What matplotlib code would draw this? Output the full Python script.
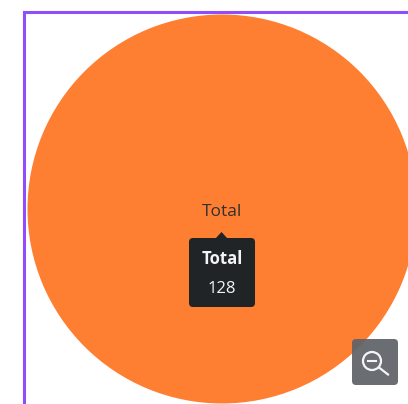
import matplotlib
matplotlib.use("Agg")
import matplotlib.pyplot as plt
from matplotlib.patches import FancyBboxPatch, Polygon, Circle
from matplotlib.lines import Line2D

labels = ['Total']
values = [128]
colors = ['#ff7f32']

plt.rcParams['font.family'] = ['Open Sans', 'DejaVu Sans']

fig = plt.figure(figsize=(4.08, 4.04), dpi=100)
# axes in pixels of the picture, y going down
ax = fig.add_axes([0, 0, 1, 1])

ax.pie(values, colors=colors, center=(222, 209), radius=194.5, frame=True, startangle=90)
ax.set_xlim(0, 408)
ax.set_ylim(404, 0)
ax.set_aspect('auto')
ax.axis('off')

# purple border, top and left only are visible
ax.add_line(Line2D([23.5, 23.5, 408], [404, 11.5, 11.5], color='#8f4dfc', lw=2.2,
                   solid_joinstyle='miter', zorder=5))

ax.text(222.5, 212.5, labels[0], ha='center', va='center', fontsize=12.5, color='#33302e', zorder=6)

# tooltip
ax.add_patch(FancyBboxPatch((192, 241), 60, 63, boxstyle='round,pad=3,rounding_size=4',
                            fc='#212426', ec='none', zorder=6))
ax.add_patch(Polygon([[215, 239], [221.5, 232], [228, 239]], closed=True,
                     fc='#212426', ec='none', zorder=6))
ax.text(222, 259.5, labels[0], ha='center', va='center', fontsize=12, fontweight='bold',
        color='#f2f4f8', zorder=7)
ax.text(222, 289, str(values[0]), ha='center', va='center', fontsize=12,
        color='#f2f4f8', zorder=7)

# zoom out button
ax.add_patch(FancyBboxPatch((355, 342), 40, 40, boxstyle='round,pad=3,rounding_size=4',
                            fc='#5f6368', ec='none', alpha=0.93, zorder=6))
ax.add_patch(Circle((372, 361), 9, fc='none', ec='#f2f4f8', lw=1.6, zorder=7))
ax.add_line(Line2D([379, 388], [367.5, 374.5], color='#f2f4f8', lw=1.6, zorder=7))
ax.add_line(Line2D([368, 376], [361, 361], color='#f2f4f8', lw=1.5, zorder=7))

fig.savefig('out.png', dpi=100)
